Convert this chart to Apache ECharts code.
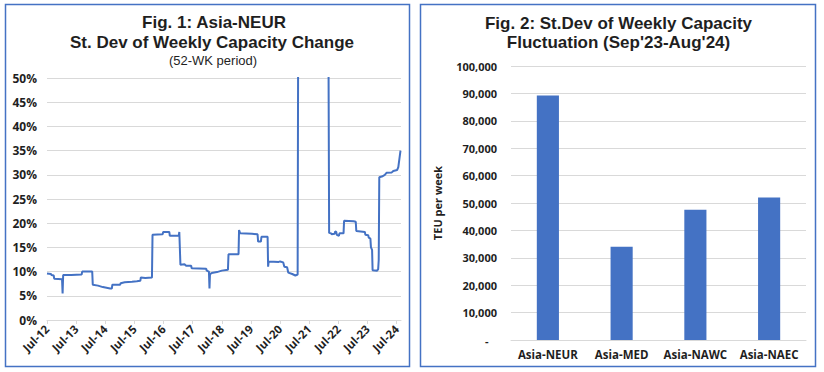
<!DOCTYPE html>
<html>
<head>
<meta charset="utf-8">
<script src="https://cdn.jsdelivr.net/npm/echarts@6/dist/echarts.min.js"></script>
<style>
html,body{margin:0;padding:0;background:#fff;}
#chart{width:824px;height:372px;}
</style>
</head>
<body>
<div id="chart"></div>
<script>
// ---- Fig. 1 data: 52-week st.dev of weekly capacity change (%), Asia-NEUR ----
const weekDates = [
'2012-07-01','2012-08-20','2012-08-27','2012-09-24','2012-10-01','2013-01-07','2013-01-14','2013-01-21',
'2013-05-01','2013-09-09','2013-09-16','2014-01-20','2014-01-27','2014-04-01','2014-06-01','2014-09-01',
'2014-09-22','2014-09-29','2015-01-05','2015-01-12','2015-03-01','2015-06-01','2015-08-01','2015-09-14',
'2015-09-21','2015-11-15','2016-02-08','2016-02-15','2016-06-20','2016-06-27','2016-09-12','2016-09-19',
'2017-01-09','2017-01-16','2017-01-23','2017-01-30','2017-03-20','2017-04-10','2017-06-12','2017-06-19',
'2017-12-18','2017-12-25','2018-01-22','2018-01-29','2018-02-05','2018-02-26','2018-05-01','2018-07-01',
'2018-09-17','2018-09-24','2019-01-28','2019-02-04','2019-02-18','2019-07-15','2019-09-23','2019-09-30',
'2019-11-04','2019-11-11','2020-01-27','2020-02-03','2020-02-10','2020-06-15','2020-07-01','2020-08-10',
'2020-08-24','2020-09-28','2020-10-12','2020-12-01','2021-01-10','2021-02-08','2021-02-15','2022-02-28',
'2022-03-07','2022-04-01','2022-04-08','2022-05-15','2022-05-22','2022-06-05','2022-06-12','2022-07-08',
'2022-07-15','2022-09-05','2022-09-12','2023-01-10','2023-02-06','2023-02-13','2023-05-29','2023-06-05',
'2023-07-10','2023-07-17','2023-08-07','2023-08-14','2023-08-28','2023-09-04','2023-10-30','2023-11-13',
'2023-11-20','2023-11-27','2024-01-08','2024-02-05','2024-02-26','2024-05-01','2024-05-20','2024-07-08',
'2024-07-22','2024-08-19'
];
const stdevPct = [
9.6,9.5,9.3,9.2,8.5,8.4,5.5,9.3,
9.3,9.4,10.0,10.0,7.3,7.1,6.8,6.5,
6.5,7.3,7.3,7.6,7.8,7.9,8.0,8.1,
8.8,8.7,8.8,17.6,17.7,18.2,18.2,17.4,
17.4,18.2,18.2,11.4,11.5,11.2,11.2,10.7,
10.6,10.2,10.0,6.5,9.5,9.7,9.9,10.2,
10.4,13.6,13.6,18.6,17.9,17.8,17.7,16.2,
16.2,17.2,17.2,11.0,12.1,12.0,12.1,11.9,
11.0,10.9,9.8,9.5,9.2,9.4,62,62,
18.0,17.9,17.7,17.8,18.3,18.2,17.6,17.4,
17.9,17.9,20.5,20.4,20.3,18.4,18.2,17.6,
17.5,17.0,16.8,15.0,14.5,10.3,10.2,10.5,
12.4,29.5,29.7,30.0,30.4,30.5,30.8,31.0,
31.6,35.0
];
const xTickLabels = ['Jul-12','Jul-13','Jul-14','Jul-15','Jul-16','Jul-17','Jul-18','Jul-19','Jul-20','Jul-21','Jul-22','Jul-23','Jul-24'];

// ---- Fig. 2 data: St.Dev of weekly capacity fluctuation (TEU per week) ----
const tradeLanes = ['Asia-NEUR','Asia-MED','Asia-NAWC','Asia-NAEC'];
const teuStdev = [89200, 34000, 47500, 52000];

// years since 1 Jul 2012
function toX(d){
  const p = d.split('-').map(Number);
  return (p[0] - 2012) + (p[1] - 7) / 12 + (p[2] - 1) / 365;
}
const lineData = weekDates.map((d, i) => [toX(d), stdevPct[i]]);
const yearTicks = xTickLabels.map((_, i) => i);

const FONT = '"Open Sans", "Noto Sans", sans-serif';
const TFONT = '"Liberation Sans", Roboto, sans-serif';
const BLUE = '#4472C4';
const GRID = '#d9d9d9';
const TXT = '#1f1f1f';

function titleText(x, y, text, font){
  return {type: 'text', x: x, y: y, style: {text: text, textAlign: 'center', textVerticalAlign: 'middle', fill: TXT, font: font}};
}

const chart = echarts.init(document.getElementById('chart'), null, {renderer: 'svg'});
chart.setOption({
  animation: false,
  textStyle: {fontFamily: FONT},
  grid: [
    {left: 47, right: 423, top: 78, bottom: 52},
    {left: 511, right: 18, top: 66, bottom: 32}
  ],
  xAxis: [
    {
      gridIndex: 0, type: 'value', min: 0, max: 12.15, interval: 1,
      axisLine: {show: true, lineStyle: {color: GRID, width: 1}},
      axisTick: {show: true, length: 4, lineStyle: {color: GRID}, customValues: yearTicks},
      splitLine: {show: false},
      axisLabel: {
        rotate: 45, margin: 7, fontSize: 11.5, fontWeight: 'bold', color: TXT, fontFamily: FONT,
        customValues: yearTicks,
        formatter: v => xTickLabels[Math.round(v)] || ''
      }
    },
    {
      gridIndex: 1, type: 'category', data: tradeLanes,
      axisLine: {show: true, lineStyle: {color: GRID, width: 1}},
      axisTick: {show: false},
      axisLabel: {interval: 0, margin: 8, fontSize: 11.5, fontWeight: 'bold', color: TXT, fontFamily: FONT}
    }
  ],
  yAxis: [
    {
      gridIndex: 0, type: 'value', min: 0, max: 50, interval: 5,
      axisLine: {show: false}, axisTick: {show: false},
      splitLine: {lineStyle: {color: GRID, width: 1}},
      axisLabel: {margin: 10, fontSize: 12, fontWeight: 'bold', color: TXT, fontFamily: FONT, formatter: '{value}%'}
    },
    {
      gridIndex: 1, type: 'value', min: 0, max: 100000, interval: 10000,
      axisLine: {show: false}, axisTick: {show: false},
      splitLine: {lineStyle: {color: GRID, width: 1}},
      axisLabel: {
        margin: 14, fontSize: 11, fontWeight: 'bold', color: TXT, fontFamily: FONT,
        formatter: v => v === 0 ? '-   ' : v.toLocaleString('en-US')
      },
      name: 'TEU per week', nameLocation: 'middle', nameGap: 68,
      nameTextStyle: {fontSize: 11, fontWeight: 'bold', color: TXT, fontFamily: FONT}
    }
  ],
  series: [
    {
      type: 'line', xAxisIndex: 0, yAxisIndex: 0, data: lineData,
      showSymbol: false, clip: true,
      lineStyle: {color: BLUE, width: 2}, itemStyle: {color: BLUE}
    },
    {
      type: 'bar', xAxisIndex: 1, yAxisIndex: 1, data: teuStdev,
      barWidth: '30%', itemStyle: {color: BLUE}
    }
  ],
  graphic: [
    {type: 'rect', shape: {x: 5.5, y: 4.5, width: 404, height: 362}, style: {fill: 'none', stroke: BLUE, lineWidth: 1.5}, silent: true},
    {type: 'rect', shape: {x: 420.5, y: 4.5, width: 395, height: 362}, style: {fill: 'none', stroke: BLUE, lineWidth: 1.5}, silent: true},
    titleText(214, 22, 'Fig. 1: Asia-NEUR', 'bold 17px ' + TFONT),
    titleText(212, 42, 'St. Dev of Weekly Capacity Change', 'bold 17px ' + TFONT),
    titleText(213, 60.5, '(52-WK period)', '13px ' + TFONT),
    titleText(618.5, 23, 'Fig. 2: St.Dev of Weekly Capacity', 'bold 17px ' + TFONT),
    titleText(618.5, 42.5, "Fluctuation (Sep'23-Aug'24)", 'bold 17px ' + TFONT)
  ]
});
</script>
</body>
</html>
